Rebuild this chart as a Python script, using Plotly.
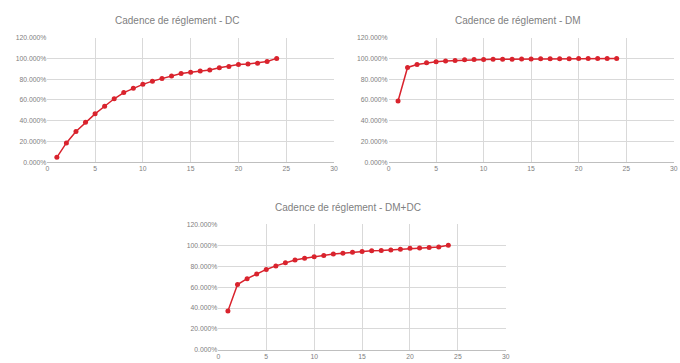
import plotly.graph_objects as go

months = list(range(1, 25))
dc = [4.7, 18.6, 29.6, 38.4, 46.6, 53.9, 61.1, 67.1, 71.2, 75.0, 78.1, 80.6,
      83.1, 85.4, 86.6, 87.9, 88.8, 91.0, 92.3, 94.2, 94.5, 95.4, 97.0, 100.0]
dm = [58.9, 91.3, 94.2, 95.7, 96.7, 97.6, 98.0, 98.6, 98.9, 98.9, 99.1, 99.2,
      99.3, 99.4, 99.5, 99.6, 99.6, 99.7, 99.7, 99.8, 99.8, 99.9, 99.9, 100.0]
dmdc = [37.2, 62.5, 68.1, 72.5, 76.9, 80.3, 83.4, 85.9, 87.5, 89.1, 90.3, 91.6,
        92.5, 93.4, 94.1, 94.7, 95.0, 95.6, 96.3, 97.2, 97.5, 97.8, 98.4, 100.0]
titles = ["Cadence de réglement - DC", "Cadence de réglement - DM",
          "Cadence de réglement - DM+DC"]

RED = "#d9232d"
GRID = "#d9d9d9"
TXT = "#808080"
FONT = "Liberation Sans"

fig = go.Figure()
series = [dc, dm, dmdc]
xdomains = [(0.0672, 0.4926), (0.5735, 0.9966), (0.321, 0.7475)]
ydomains = [(0.5556, 0.9055), (0.5556, 0.9055), (0.0284, 0.381)]
title_pos = [(0.26, 0.953), (0.765, 0.953), (0.513, 0.428)]

layout = dict(width=680, height=363, margin=dict(l=0, r=0, t=0, b=0),
              paper_bgcolor="white", plot_bgcolor="white", showlegend=False,
              font=dict(family=FONT, color=TXT))
annotations = []
for i, (vals, t) in enumerate(zip(series, titles)):
    n = "" if i == 0 else str(i + 1)
    fig.add_trace(go.Scatter(x=months, y=[v / 100 for v in vals], mode="lines+markers",
                             line=dict(color=RED, width=1.5),
                             marker=dict(color=RED, size=5),
                             xaxis="x" + n, yaxis="y" + n))
    layout["xaxis" + n] = dict(domain=xdomains[i], anchor="y" + n, range=[0, 30],
                               tick0=0, dtick=5, showgrid=True, gridcolor=GRID,
                               gridwidth=1, zeroline=False, showline=True,
                               linecolor="#bfbfbf", linewidth=1,
                               tickfont=dict(size=6.8, color=TXT), ticks="")
    layout["yaxis" + n] = dict(domain=ydomains[i], anchor="x" + n, range=[0, 1.2],
                               tick0=0, dtick=0.2, tickformat=".3%", showgrid=True,
                               gridcolor=GRID, gridwidth=1, zeroline=False,
                               showline=False, tickfont=dict(size=6.8, color=TXT),
                               ticks="")
    annotations.append(dict(text=t, x=title_pos[i][0], y=title_pos[i][1],
                            xref="paper", yref="paper", showarrow=False,
                            xanchor="center", yanchor="middle",
                            font=dict(size=10, color=TXT, family=FONT)))
layout["annotations"] = annotations
fig.update_layout(**layout)
fig.write_html("out.html", config={"displayModeBar": False},
               post_script="document.body.style.margin='0';document.body.style.overflow='hidden';")
